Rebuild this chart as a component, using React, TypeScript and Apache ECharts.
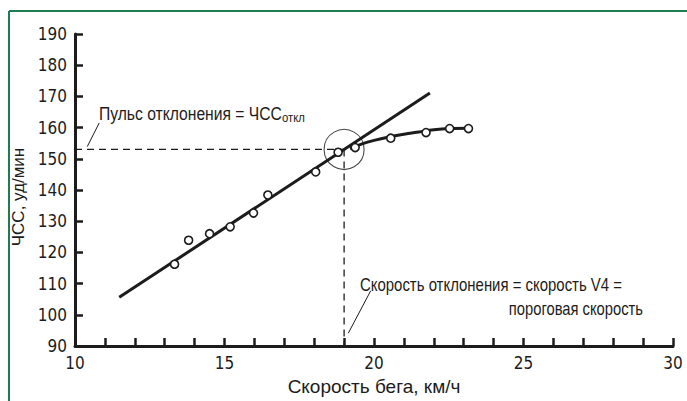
import React, { useEffect, useRef } from "react";
import * as echarts from "echarts";

// Measured points: running speed (km/h) and heart rate (bpm)
const speeds = [13.33, 13.8, 14.5, 15.19, 15.97, 16.45, 18.05, 18.8, 19.37, 20.56, 21.74, 22.53, 23.16];
const heartRates = [116.2, 123.9, 126.0, 128.2, 132.6, 138.4, 145.8, 152.1, 153.6, 156.6, 158.4, 159.7, 159.7];

// Linear part (straight line)
const fitLineX = [11.48, 21.87];
const fitLineY = [105.6, 171.1];

// Curved (deflected) part
const curveX = [19.2, 19.6, 20.0, 20.5, 21.0, 21.5, 22.0, 22.5, 23.16];
const curveY = [153.2, 154.8, 155.9, 157.0, 157.9, 158.6, 159.3, 159.7, 159.8];

// Deflection point
const deflectionSpeed = 19.0;
const deflectionHR = 153;

// Leader lines of annotations
const leader1X = [10.81, 10.41];
const leader1Y = [161.5, 153.9];
const leader2X = [19.89, 19.14];
const leader2Y = [107.7, 94.1];

const xMin = 10;
const xMax = 30;
const yMin = 90;
const yMax = 190;

const NARROW = '"Liberation Sans Narrow", "DejaVu Sans Condensed", "Arial Narrow", sans-serif';
const REGULAR = '"Liberation Sans", Arial, Helvetica, sans-serif';
const INK = "#1c1c1c";

const zip = (xs: number[], ys: number[]) => xs.map((x, i) => [x, ys[i]]);

export default function App() {
  const ref = useRef<HTMLDivElement>(null);

  useEffect(() => {
    if (!ref.current) return;
    const chart = echarts.init(ref.current, undefined, { renderer: "svg" });
    const dash = { color: INK, width: 1.3, type: [7, 5] as any };
    chart.setOption({
      animation: false,
      backgroundColor: "#ffffff",
      grid: { left: 75, right: 14, top: 34, bottom: 48, containLabel: false },
      xAxis: {
        type: "value",
        min: xMin,
        max: xMax,
        interval: 1,
        name: "Скорость бега, км/ч",
        nameLocation: "middle",
        nameGap: 31,
        nameTextStyle: { fontSize: 19, color: INK, fontFamily: REGULAR },
        axisLine: { lineStyle: { color: INK, width: 3 } },
        axisTick: { inside: true, length: 8, lineStyle: { color: INK, width: 2.5 } },
        splitLine: { show: false },
        axisLabel: {
          formatter: (v: number) => (v % 5 === 0 ? String(v) : ""),
          fontSize: 17,
          color: INK,
          margin: 8,
          fontFamily: NARROW,
        },
      },
      yAxis: {
        type: "value",
        min: yMin,
        max: yMax,
        interval: 10,
        name: "ЧСС, уд/мин",
        nameLocation: "middle",
        nameGap: 42,
        nameTextStyle: { fontSize: 17, color: INK, fontFamily: REGULAR, padding: [0, 14, 0, 0] },
        axisLine: { lineStyle: { color: INK, width: 3 } },
        axisTick: { inside: true, length: 8, lineStyle: { color: INK, width: 2.5 } },
        splitLine: { show: false },
        axisLabel: { fontSize: 17, color: INK, margin: 8, fontFamily: NARROW },
      },
      series: [
        {
          type: "line",
          data: zip(fitLineX, fitLineY),
          showSymbol: false,
          lineStyle: { color: INK, width: 3 },
          silent: true,
          z: 3,
        },
        {
          type: "line",
          data: zip(curveX, curveY),
          smooth: 0.4,
          showSymbol: false,
          lineStyle: { color: INK, width: 3 },
          silent: true,
          z: 3,
        },
        {
          type: "line",
          data: [
            [xMin, deflectionHR],
            [deflectionSpeed, deflectionHR],
          ],
          showSymbol: false,
          lineStyle: dash,
          silent: true,
          z: 2,
        },
        {
          type: "line",
          data: [
            [deflectionSpeed, deflectionHR],
            [deflectionSpeed, yMin],
          ],
          showSymbol: false,
          lineStyle: dash,
          silent: true,
          z: 2,
        },
        {
          type: "line",
          data: zip(leader1X, leader1Y),
          showSymbol: false,
          lineStyle: { color: INK, width: 1 },
          silent: true,
        },
        {
          type: "line",
          data: zip(leader2X, leader2Y),
          showSymbol: false,
          lineStyle: { color: INK, width: 1 },
          silent: true,
        },
        {
          type: "scatter",
          data: [[deflectionSpeed, deflectionHR]],
          symbol: "circle",
          symbolSize: 40,
          itemStyle: { color: "rgba(0,0,0,0)", borderColor: INK, borderWidth: 1.1 },
          silent: true,
          z: 4,
        },
        {
          type: "scatter",
          data: zip(speeds, heartRates),
          symbol: "circle",
          symbolSize: 8,
          itemStyle: { color: "#ffffff", borderColor: INK, borderWidth: 1.6, opacity: 1 },
          silent: true,
          z: 5,
        },
      ],
      graphic: [
        {
          type: "line",
          shape: { x1: 9, y1: 11, x2: 687, y2: 11 },
          style: { stroke: "#1e7b52", lineWidth: 2 },
          silent: true,
        },
        {
          type: "line",
          shape: { x1: 9, y1: 11, x2: 9, y2: 401 },
          style: { stroke: "#1e7b52", lineWidth: 2 },
          silent: true,
        },
        {
          type: "text",
          x: 99,
          y: 114,
          scaleX: 0.87,
          silent: true,
          style: {
            text: "Пульс отклонения = ЧСС{sub|откл}",
            fontSize: 18,
            fontFamily: REGULAR,
            fill: INK,
            textAlign: "left",
            textVerticalAlign: "middle",
            rich: {
              sub: { fontSize: 13, fontFamily: REGULAR, fill: INK, padding: [8, 0, 0, 0] },
            },
          },
        },
        {
          type: "text",
          x: 360,
          y: 285,
          scaleX: 0.83,
          silent: true,
          style: {
            text: "Скорость отклонения = скорость V4 =",
            fontSize: 18,
            fontFamily: REGULAR,
            fill: INK,
            textAlign: "left",
            textVerticalAlign: "middle",
          },
        },
        {
          type: "text",
          x: 643,
          y: 308,
          scaleX: 0.82,
          silent: true,
          style: {
            text: "пороговая скорость",
            fontSize: 18,
            fontFamily: REGULAR,
            fill: INK,
            textAlign: "right",
            textVerticalAlign: "middle",
          },
        },
      ],
    });
    return () => chart.dispose();
  }, []);

  return (
    <div
      ref={ref}
      style={{ position: "fixed", left: 0, top: 0, width: 687, height: 401, background: "#fff" }}
    />
  );
}
